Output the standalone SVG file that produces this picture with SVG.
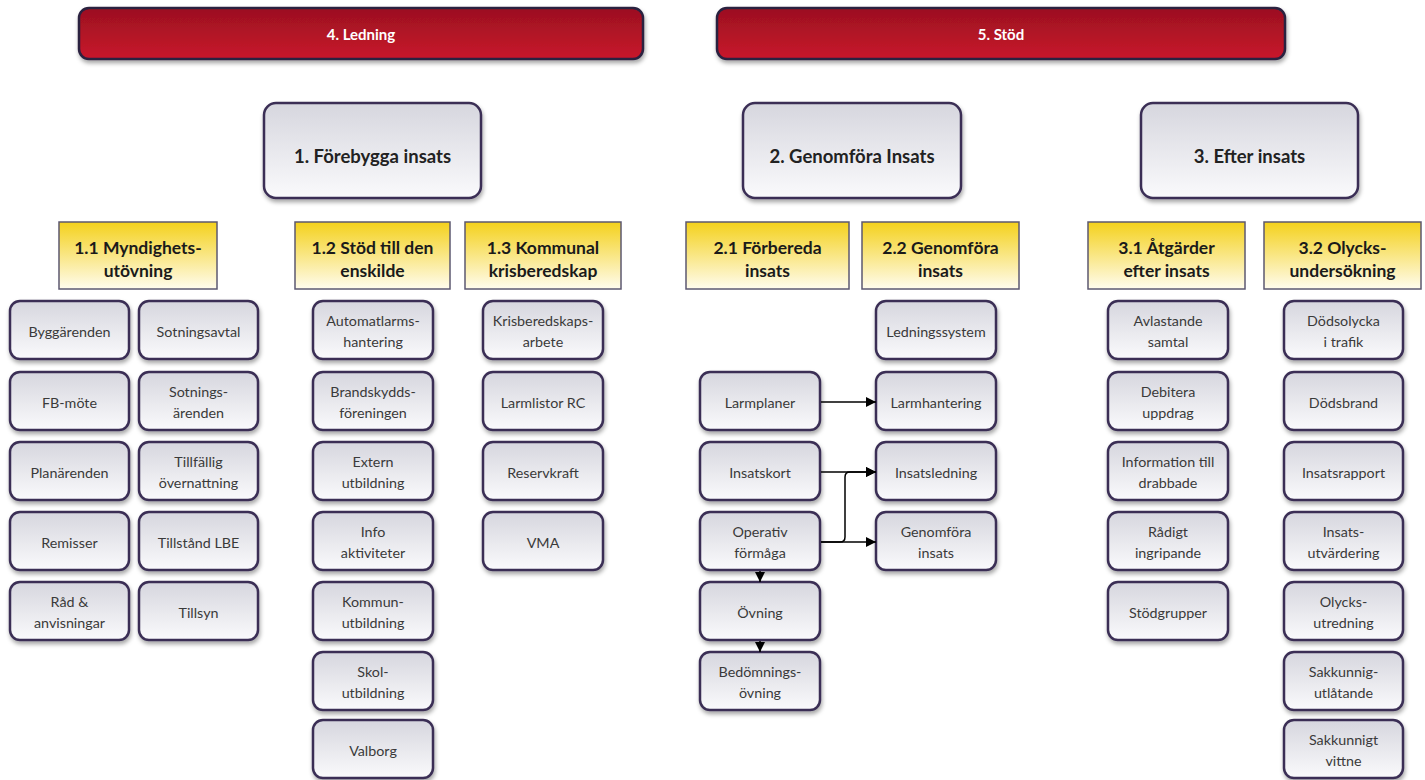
<svg xmlns="http://www.w3.org/2000/svg" width="1425" height="780" viewBox="0 0 1425 780">
<defs>
<linearGradient id="gRed" x1="0" y1="0" x2="0" y2="1"><stop offset="0" stop-color="#9b1021"/><stop offset="1" stop-color="#c8162b"/></linearGradient>
<linearGradient id="gGray" x1="0" y1="0" x2="0" y2="1"><stop offset="0" stop-color="#d6d6de"/><stop offset="1" stop-color="#fafafc"/></linearGradient>
<linearGradient id="gYel" x1="0" y1="0" x2="0" y2="1"><stop offset="0" stop-color="#f4d11c"/><stop offset="1" stop-color="#fffcee"/></linearGradient>
<filter id="sh" x="-10%" y="-10%" width="130%" height="140%"><feDropShadow dx="1" dy="3" stdDeviation="2" flood-color="#000" flood-opacity="0.35"/></filter>
<marker id="ah" viewBox="0 0 10 10" refX="10" refY="5" markerWidth="10" markerHeight="10" markerUnits="userSpaceOnUse" orient="auto"><path d="M0,0 L10,5 L0,10 Z" fill="#000"/></marker>
</defs>
<style>
.red{fill:url(#gRed);stroke:#2c2140;stroke-width:2.5;filter:url(#sh)}
.top{fill:url(#gGray);stroke:#3a2f55;stroke-width:2.5;filter:url(#sh)}
.leaf{fill:url(#gGray);stroke:#3a2f55;stroke-width:2.5;filter:url(#sh)}
.yel{fill:url(#gYel);stroke:#5c5870;stroke-width:1.5}
text{font-family:Lato,"Open Sans","Liberation Sans",sans-serif;text-anchor:middle}
.tr{fill:#fff;font-weight:bold;font-size:15px}
.tt{fill:#222;font-weight:bold;font-size:18.5px}
.tt2{fill:#222;font-weight:bold;font-size:18.5px}
.ty{fill:#1a1a1a;font-weight:bold;font-size:17.5px}
.tl{fill:#3a3a3a;font-size:14.3px}
.cn{fill:none;stroke:#000;stroke-width:1.5}
</style>

<g id="ledning"><rect class="red" x="79" y="8" width="564" height="51" rx="10"/><text class="tr" x="361" y="40">4. Ledning</text></g>
<g id="stod"><rect class="red" x="717" y="8" width="568" height="51" rx="10"/><text class="tr" x="1001" y="40">5. Stöd</text></g>

<g id="n1"><rect class="top" x="264" y="103" width="217" height="95" rx="12"/><text class="tt" x="372.5" y="163">1. Förebygga insats</text></g>
<g id="n2"><rect class="top" x="743" y="103" width="218" height="95" rx="12"/><text class="tt" x="852" y="163">2. Genomföra Insats</text></g>
<g id="n3"><rect class="top" x="1141" y="103" width="217" height="95" rx="12"/><text class="tt" x="1249.5" y="163">3. Efter insats</text></g>

<g id="n11"><rect class="yel" x="59" y="222" width="158" height="67"/><text class="ty" x="138" y="254">1.1 Myndighets-</text><text class="ty" x="138" y="277">utövning</text></g>
<g id="n12"><rect class="yel" x="295" y="222" width="155" height="67"/><text class="ty" x="372.5" y="254">1.2 Stöd till den</text><text class="ty" x="372.5" y="277">enskilde</text></g>
<g id="n13"><rect class="yel" x="465" y="222" width="156" height="67"/><text class="ty" x="543" y="254">1.3 Kommunal</text><text class="ty" x="543" y="277">krisberedskap</text></g>
<g id="n21"><rect class="yel" x="686" y="222" width="163" height="67"/><text class="ty" x="767.5" y="254">2.1 Förbereda</text><text class="ty" x="767.5" y="277">insats</text></g>
<g id="n22"><rect class="yel" x="862" y="222" width="157" height="67"/><text class="ty" x="940.5" y="254">2.2 Genomföra</text><text class="ty" x="940.5" y="277">insats</text></g>
<g id="n31"><rect class="yel" x="1088" y="222" width="157" height="67"/><text class="ty" x="1166.5" y="254">3.1 Åtgärder</text><text class="ty" x="1166.5" y="277">efter insats</text></g>
<g id="n32"><rect class="yel" x="1264" y="222" width="157" height="67"/><text class="ty" x="1342.5" y="254">3.2 Olycks-</text><text class="ty" x="1342.5" y="277">undersökning</text></g>

<!-- column 1 -->
<g id="byggarenden"><rect class="leaf" x="10" y="301" width="119" height="58" rx="10"/><text class="tl" x="69.5" y="337">Byggärenden</text></g>
<g id="fbmote"><rect class="leaf" x="10" y="372" width="119" height="58" rx="10"/><text class="tl" x="69.5" y="408">FB-möte</text></g>
<g id="planarenden"><rect class="leaf" x="10" y="442" width="119" height="58" rx="10"/><text class="tl" x="69.5" y="478">Planärenden</text></g>
<g id="remisser"><rect class="leaf" x="10" y="512" width="119" height="58" rx="10"/><text class="tl" x="69.5" y="548">Remisser</text></g>
<g id="rad"><rect class="leaf" x="10" y="582" width="119" height="58" rx="10"/><text class="tl" x="69.5" y="607">Råd &amp;</text><text class="tl" x="69.5" y="628">anvisningar</text></g>

<!-- column 2 -->
<g id="sotningsavtal"><rect class="leaf" x="139" y="301" width="119" height="58" rx="10"/><text class="tl" x="198.5" y="337">Sotningsavtal</text></g>
<g id="sotningsarenden"><rect class="leaf" x="139" y="372" width="119" height="58" rx="10"/><text class="tl" x="198.5" y="397">Sotnings-</text><text class="tl" x="198.5" y="418">ärenden</text></g>
<g id="tillfallig"><rect class="leaf" x="139" y="442" width="119" height="58" rx="10"/><text class="tl" x="198.5" y="467">Tillfällig</text><text class="tl" x="198.5" y="488">övernattning</text></g>
<g id="tillstand"><rect class="leaf" x="139" y="512" width="119" height="58" rx="10"/><text class="tl" x="198.5" y="548">Tillstånd LBE</text></g>
<g id="tillsyn"><rect class="leaf" x="139" y="582" width="119" height="58" rx="10"/><text class="tl" x="198.5" y="618">Tillsyn</text></g>

<!-- column 3 -->
<g id="automatlarm"><rect class="leaf" x="313" y="301" width="120" height="58" rx="10"/><text class="tl" x="373" y="326">Automatlarms-</text><text class="tl" x="373" y="347">hantering</text></g>
<g id="brandskydd"><rect class="leaf" x="313" y="372" width="120" height="58" rx="10"/><text class="tl" x="373" y="397">Brandskydds-</text><text class="tl" x="373" y="418">föreningen</text></g>
<g id="extern"><rect class="leaf" x="313" y="442" width="120" height="58" rx="10"/><text class="tl" x="373" y="467">Extern</text><text class="tl" x="373" y="488">utbildning</text></g>
<g id="info"><rect class="leaf" x="313" y="512" width="120" height="58" rx="10"/><text class="tl" x="373" y="537">Info</text><text class="tl" x="373" y="558">aktiviteter</text></g>
<g id="kommun"><rect class="leaf" x="313" y="582" width="120" height="58" rx="10"/><text class="tl" x="373" y="607">Kommun-</text><text class="tl" x="373" y="628">utbildning</text></g>
<g id="skol"><rect class="leaf" x="313" y="652" width="120" height="58" rx="10"/><text class="tl" x="373" y="677">Skol-</text><text class="tl" x="373" y="698">utbildning</text></g>
<g id="valborg"><rect class="leaf" x="313" y="720" width="120" height="58" rx="10"/><text class="tl" x="373" y="756">Valborg</text></g>

<!-- column 4 -->
<g id="krisarbete"><rect class="leaf" x="483" y="301" width="120" height="58" rx="10"/><text class="tl" x="543" y="326">Krisberedskaps-</text><text class="tl" x="543" y="347">arbete</text></g>
<g id="larmlistor"><rect class="leaf" x="483" y="372" width="120" height="58" rx="10"/><text class="tl" x="543" y="408">Larmlistor RC</text></g>
<g id="reservkraft"><rect class="leaf" x="483" y="442" width="120" height="58" rx="10"/><text class="tl" x="543" y="478">Reservkraft</text></g>
<g id="vma"><rect class="leaf" x="483" y="512" width="120" height="58" rx="10"/><text class="tl" x="543" y="548">VMA</text></g>

<!-- column 5 -->
<g id="larmplaner"><rect class="leaf" x="700" y="372" width="120" height="58" rx="10"/><text class="tl" x="760" y="408">Larmplaner</text></g>
<g id="insatskort"><rect class="leaf" x="700" y="442" width="120" height="58" rx="10"/><text class="tl" x="760" y="478">Insatskort</text></g>
<g id="operativ"><rect class="leaf" x="700" y="512" width="120" height="58" rx="10"/><text class="tl" x="760" y="537">Operativ</text><text class="tl" x="760" y="558">förmåga</text></g>
<g id="ovning"><rect class="leaf" x="700" y="582" width="120" height="58" rx="10"/><text class="tl" x="760" y="618">Övning</text></g>
<g id="bedomning"><rect class="leaf" x="700" y="652" width="120" height="58" rx="10"/><text class="tl" x="760" y="677">Bedömnings-</text><text class="tl" x="760" y="698">övning</text></g>

<!-- column 6 -->
<g id="ledningssystem"><rect class="leaf" x="876" y="301" width="120" height="58" rx="10"/><text class="tl" x="936" y="337">Ledningssystem</text></g>
<g id="larmhantering"><rect class="leaf" x="876" y="372" width="120" height="58" rx="10"/><text class="tl" x="936" y="408">Larmhantering</text></g>
<g id="insatsledning"><rect class="leaf" x="876" y="442" width="120" height="58" rx="10"/><text class="tl" x="936" y="478">Insatsledning</text></g>
<g id="genomfora"><rect class="leaf" x="876" y="512" width="120" height="58" rx="10"/><text class="tl" x="936" y="537">Genomföra</text><text class="tl" x="936" y="558">insats</text></g>

<!-- column 7 -->
<g id="avlastande"><rect class="leaf" x="1108" y="301" width="120" height="58" rx="10"/><text class="tl" x="1168" y="326">Avlastande</text><text class="tl" x="1168" y="347">samtal</text></g>
<g id="debitera"><rect class="leaf" x="1108" y="372" width="120" height="58" rx="10"/><text class="tl" x="1168" y="397">Debitera</text><text class="tl" x="1168" y="418">uppdrag</text></g>
<g id="information"><rect class="leaf" x="1108" y="442" width="120" height="58" rx="10"/><text class="tl" x="1168" y="467">Information till</text><text class="tl" x="1168" y="488">drabbade</text></g>
<g id="radigt"><rect class="leaf" x="1108" y="512" width="120" height="58" rx="10"/><text class="tl" x="1168" y="537">Rådigt</text><text class="tl" x="1168" y="558">ingripande</text></g>
<g id="stodgrupper"><rect class="leaf" x="1108" y="582" width="120" height="58" rx="10"/><text class="tl" x="1168" y="618">Stödgrupper</text></g>

<!-- column 8 -->
<g id="dodsolycka"><rect class="leaf" x="1284" y="301" width="119" height="58" rx="10"/><text class="tl" x="1343.5" y="326">Dödsolycka</text><text class="tl" x="1343.5" y="347">i trafik</text></g>
<g id="dodsbrand"><rect class="leaf" x="1284" y="372" width="119" height="58" rx="10"/><text class="tl" x="1343.5" y="408">Dödsbrand</text></g>
<g id="insatsrapport"><rect class="leaf" x="1284" y="442" width="119" height="58" rx="10"/><text class="tl" x="1343.5" y="478">Insatsrapport</text></g>
<g id="insatsutv"><rect class="leaf" x="1284" y="512" width="119" height="58" rx="10"/><text class="tl" x="1343.5" y="537">Insats-</text><text class="tl" x="1343.5" y="558">utvärdering</text></g>
<g id="olycksutr"><rect class="leaf" x="1284" y="582" width="119" height="58" rx="10"/><text class="tl" x="1343.5" y="607">Olycks-</text><text class="tl" x="1343.5" y="628">utredning</text></g>
<g id="sakkunnig"><rect class="leaf" x="1284" y="652" width="119" height="58" rx="10"/><text class="tl" x="1343.5" y="677">Sakkunnig-</text><text class="tl" x="1343.5" y="698">utlåtande</text></g>
<g id="vittne"><rect class="leaf" x="1284" y="720" width="119" height="58" rx="10"/><text class="tl" x="1343.5" y="745">Sakkunnigt</text><text class="tl" x="1343.5" y="766">vittne</text></g>

<g id="connectors">
<path class="cn" d="M821,402 H876" marker-end="url(#ah)"/>
<path class="cn" d="M821,472 H876" marker-end="url(#ah)"/>
<path class="cn" d="M821,542 H876" marker-end="url(#ah)"/>
<path class="cn" d="M821,542 H840 Q845,542 845,537 V477 Q845,472 850,472 H876" marker-end="url(#ah)"/>
<path class="cn" d="M760,571 V582" marker-end="url(#ah)"/>
<path class="cn" d="M760,641 V652" marker-end="url(#ah)"/>
</g>
</svg>
